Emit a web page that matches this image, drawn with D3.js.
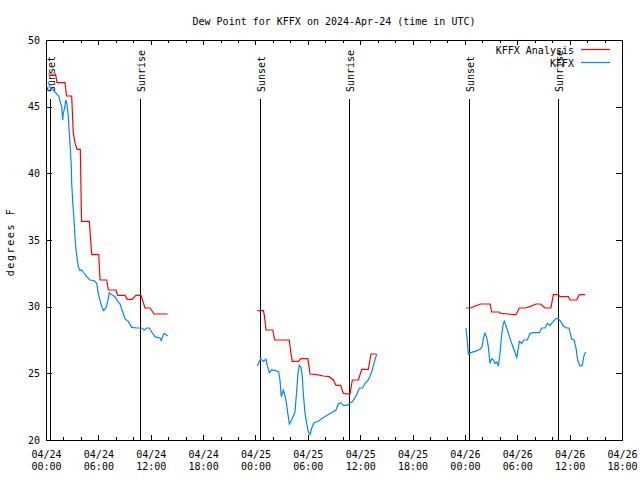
<!DOCTYPE html>
<html><head><meta charset="utf-8">
<script src="https://cdn.jsdelivr.net/npm/d3@7"></script>
<style>
body{margin:0;background:#fff}
text{font-family:"DejaVu Sans Mono",monospace;font-size:10px;fill:#000}
</style>
</head><body>
<svg id="c" width="640" height="480"></svg>
<script>
// Hours since 2024-04-24 00:00 UTC; null separates data gaps
const anaTime = [0.26,1.09,1.26,2.18,2.35,2.94,3.13,3.32,3.55,3.93,4.07,4.96,5.24,6.04,6.19,6.96,7.14,8.02,8.22,9.05,9.32,9.89,10.28,10.89,11.34,11.92,12.38,13.94, null,
  24.21,24.90,25.01,25.21,25.98,26.21,27.88,28.04,28.22,28.91,29.22,29.99,30.14,30.25,31.02,31.77,32.46,32.92,33.23,33.77,34.07,34.83,35.10,35.79,36.17,36.93,37.24,37.81, null,
  48.12,48.66,49.16,49.81,50.88,51.07,51.94,52.10,52.97,53.55,53.85,54.23,54.89,55.46,56.15,56.68,57.18,57.86,58.13,58.70,58.90,59.85,60.04,60.81,61.11,61.76];
const anaDew = [47.45,47.45,46.8,46.8,45.8,45.8,43.0,42.3,41.8,41.8,36.4,36.4,33.9,33.9,32.0,32.0,31.25,31.25,30.85,30.85,30.55,30.55,30.85,30.85,29.9,29.9,29.45,29.45, null,
  29.7,29.7,29.4,28.25,28.25,27.5,27.5,26.6,25.9,25.9,26.1,26.1,25.5,24.95,24.9,24.8,24.75,24.5,24.1,24.1,23.5,23.45,24.5,24.5,25.3,25.3,26.45,26.45, null,
  29.9,29.9,30.05,30.2,30.2,29.6,29.6,29.5,29.45,29.4,29.4,29.9,29.9,30.0,30.2,30.2,29.9,29.9,30.9,30.9,30.75,30.75,30.5,30.5,30.9,30.9];

const obsTime = [0.23,0.46,0.84,1.29,1.49,1.60,1.80,1.91,1.98,2.14,2.26,2.37,2.56,2.67,2.78,2.90,2.94,3.06,3.21,3.32,3.44,3.59,3.70,3.90,4.09,4.27,4.66,5.04,5.50,5.81,5.99,6.27,6.57,6.87,7.07,7.25,7.41,7.64,7.91,8.17,8.48,8.79,9.05,9.43,9.82,10.39,10.97,11.26,11.54,11.84,12.11,12.49,12.75,13.06,13.21,13.37,13.52,13.75,13.94, null,
  24.21,24.60,24.90,25.21,25.29,25.59,25.86,26.35,26.66,26.81,26.96,27.19,27.42,27.58,27.76,27.88,28.15,28.53,28.73,28.87,29.02,29.22,29.37,29.48,29.68,29.87,30.06,30.25,30.45,30.71,31.20,31.59,32.08,32.62,33.23,33.49,33.77,34.07,34.45,34.83,35.14,35.60,35.90,36.29,36.55,36.93,37.32,37.58,37.89, null,
  48.12,48.27,48.39,48.66,49.16,49.73,49.96,50.11,50.30,50.50,50.68,50.88,51.07,51.26,51.45,51.65,51.83,52.02,52.22,52.40,52.52,52.79,53.17,53.55,53.94,54.12,54.23,54.51,54.77,55.15,55.46,55.84,56.53,56.80,57.18,57.45,57.75,58.13,58.44,58.70,58.97,59.27,59.66,59.93,60.24,60.50,60.73,60.92,61.19,61.45,61.65,61.84];
const obsDew = [46.85,46.5,46.25,45.9,45.75,45.4,45.0,44.0,44.5,44.9,45.5,45.3,44.25,43.0,41.9,40.5,39.3,37.9,36.5,35.25,34.25,33.5,33.0,32.7,32.75,32.6,32.25,32.0,31.95,31.75,31.0,30.25,29.7,29.9,30.4,31.05,30.95,30.85,30.75,30.45,30.2,29.6,29.1,28.9,28.45,28.4,28.4,28.25,28.4,28.4,28.1,27.75,27.7,27.65,27.45,27.75,28.0,27.9,27.8, null,
  25.55,26.1,25.9,26.05,25.75,25.05,25.25,25.2,25.1,24.5,23.25,23.75,23.25,22.6,21.75,21.2,21.5,22.1,23.75,25.0,25.6,25.45,24.75,23.5,22.0,21.25,20.6,20.4,20.9,21.3,21.4,21.6,21.8,22.0,22.25,22.7,22.8,22.6,22.6,22.75,22.9,23.4,23.9,23.9,24.25,24.5,25.1,25.75,26.45, null,
  28.4,27.5,26.45,26.55,26.65,26.8,27.0,27.6,28.0,27.7,27.0,25.75,26.1,26.0,25.75,25.85,25.55,26.5,27.9,28.75,28.9,28.4,27.6,26.9,26.2,26.9,27.4,27.25,27.5,27.5,28.0,28.05,28.05,28.4,28.4,28.75,28.6,28.9,29.1,29.1,28.9,28.55,28.4,28.4,27.55,27.5,26.9,26.0,25.55,25.6,26.35,26.6];

const sunTime = [0.57, 10.80, 24.60, 34.76, 48.50, 58.70];
const sunLabel = ["Sunset","Sunrise","Sunset","Sunrise","Sunset","Sunrise"];

const majorHours = [0,6,12,18,24,30,36,42,48,54,60,66];
const tickDates = ["04/24","04/24","04/24","04/24","04/25","04/25","04/25","04/25","04/26","04/26","04/26","04/26"];
const tickTimes = ["00:00","06:00","12:00","18:00","00:00","06:00","12:00","18:00","00:00","06:00","12:00","18:00"];
const minorHours = d3.range(0, 67, 2).filter(h => h % 6 !== 0);
const yTicks = [20,25,30,35,40,45,50];

const seriesNames = ["KFFX Analysis","KFFX"];
const seriesColors = ["#ff0000","#0088ff"];
const titleText = "Dew Point for KFFX on 2024-Apr-24 (time in UTC)";
const yLabelText = "degrees F";

const L=46, R=622, T=40, B=440;
const svg = d3.select("#c");
const x = d3.scaleLinear().domain([0,66]).range([L,R]);
const y = d3.scaleLinear().domain([20,50]).range([B,T]);

// title
svg.append("text").attr("x",334).attr("y",25).attr("text-anchor","middle").text(titleText);

// y label
svg.append("text").attr("transform","translate(14,242) rotate(-90)").attr("text-anchor","middle")
  .style("letter-spacing","1.6px").text(yLabelText);

function styleAxis(g){ g.select(".domain").remove(); g.selectAll(".tick line").attr("stroke","#000").attr("shape-rendering","crispEdges"); }

// bottom major
const gB = svg.append("g").attr("transform",`translate(0,${B})`)
  .call(d3.axisBottom(x).tickValues(majorHours).tickSize(-5).tickFormat(""));
styleAxis(gB);
gB.selectAll(".tick text").each(function(d,i){
  const t = d3.select(this).attr("y",null).attr("dy",null).attr("fill","#000")
    .style("font-family",'"DejaVu Sans Mono",monospace').style("font-size","10px");
  t.append("tspan").attr("x",0).attr("y",18).text(tickDates[i]);
  t.append("tspan").attr("x",0).attr("y",30).text(tickTimes[i]);
});
const gBm = svg.append("g").attr("transform",`translate(0,${B})`)
  .call(d3.axisBottom(x).tickValues(minorHours).tickSize(-3).tickFormat(""));
styleAxis(gBm);
// top mirror
const gT = svg.append("g").attr("transform",`translate(0,${T})`)
  .call(d3.axisTop(x).tickValues(majorHours).tickSize(-5).tickFormat(""));
styleAxis(gT);
const gTm = svg.append("g").attr("transform",`translate(0,${T})`)
  .call(d3.axisTop(x).tickValues(minorHours).tickSize(-3).tickFormat(""));
styleAxis(gTm);
// left
const gL = svg.append("g").attr("transform",`translate(${L},0)`)
  .call(d3.axisLeft(y).tickValues(yTicks).tickSize(-6).tickPadding(6));
styleAxis(gL);
gL.selectAll(".tick text").attr("fill","#000").style("font-family",'"DejaVu Sans Mono",monospace').style("font-size","10px");
// right
const gR = svg.append("g").attr("transform",`translate(${R},0)`)
  .call(d3.axisRight(y).tickValues(yTicks).tickSize(-6).tickFormat(""));
styleAxis(gR);

// frame
svg.append("rect").attr("x",L).attr("y",T).attr("width",R-L).attr("height",B-T)
  .attr("fill","none").attr("stroke","#000").attr("shape-rendering","crispEdges");

// sun lines
sunTime.forEach((h,i)=>{
  const px = x(h);
  svg.append("line").attr("x1",px).attr("x2",px).attr("y1",99).attr("y2",B)
    .attr("stroke","#000").attr("shape-rendering","crispEdges");
  svg.append("text").attr("transform",`translate(${px+4.5},92) rotate(-90)`).text(sunLabel[i]);
});

// series
const line = d3.line().defined(d => d[0] != null && d[1] != null).x(d => x(d[0])).y(d => y(d[1]));
const anaData = d3.zip(anaTime, anaDew);
const obsData = d3.zip(obsTime, obsDew);
svg.append("path").datum(anaData).attr("d",line).attr("fill","none").attr("stroke",seriesColors[0]).attr("stroke-width",1.2);
svg.append("path").datum(obsData).attr("d",line).attr("fill","none").attr("stroke",seriesColors[1]).attr("stroke-width",1.2);

// legend
seriesNames.forEach((n,i)=>{
  const yy = 50 + i*13;
  svg.append("text").attr("x",574).attr("y",yy+4).attr("text-anchor","end").text(n);
  svg.append("line").attr("x1",581).attr("x2",610).attr("y1",yy-0.5).attr("y2",yy-0.5)
    .attr("stroke",seriesColors[i]).attr("stroke-width",1.2);
});
</script>
</body></html>
